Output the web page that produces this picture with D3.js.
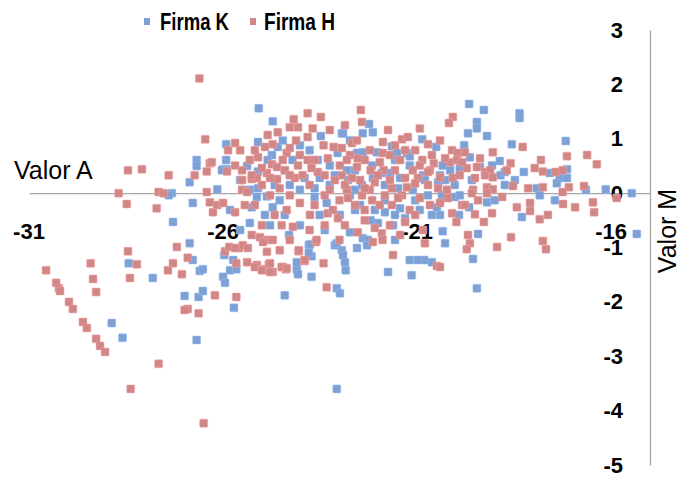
<!DOCTYPE html>
<html>
<head>
<meta charset="utf-8">
<script src="https://cdn.jsdelivr.net/npm/d3@7"></script>
<style>
  html, body { margin: 0; padding: 0; background: #fff; }
  svg { display: block; }
  .tick-label { font-family: "Liberation Sans", Arial, sans-serif; font-weight: bold; font-size: 22px; fill: #000; }
  .axis-title { font-family: "Liberation Sans", Arial, sans-serif; font-size: 25px; fill: #000; }
  .legend-text { font-family: "Liberation Sans", Arial, sans-serif; font-weight: bold; font-size: 24px; fill: #000; }
</style>
</head>
<body>
<svg id="chart" width="681" height="478"></svg>
<script>
// Series: [Valor A, Valor M]
const firmaK = [
  [-28.43,-1.29],[-27.81,-1.56],[-28.87,-2.39],[-28.59,-2.66],[-26.86,-0.92],[-26.78,-1.23],
  [-26.60,-1.43],[-26.52,-1.40],[-26.99,-1.89],[-26.63,-1.91],[-26.52,-1.80],[-26.68,-2.70],
  [-25.97,-1.14],[-25.74,-1.23],[-25.82,-1.42],[-25.66,-1.40],[-26.00,-1.54],[-25.95,-1.65],
  [-25.72,-2.11],[-24.41,-1.88],[-24.10,-1.40],[-24.07,-1.49],[-23.79,-0.96],[-23.72,-1.16],
  [-23.72,-1.54],[-23.07,-3.60],[-23.12,-0.96],[-23.07,-1.75],[-26.68,0.61],[-26.68,0.50],
  [-26.86,0.20],[-27.32,0.00],[-25.08,1.56],[-24.72,1.32],[-22.94,1.10],[-23.48,1.05],
  [-25.92,0.90],[-25.10,0.94],[-25.92,0.61],[-25.90,0.44],[-25.38,0.50],[-26.00,0.44],
  [-24.74,0.70],[-24.59,0.85],[-25.10,0.40],[-26.15,0.07],[-25.10,0.09],[-23.56,0.61],
  [-24.21,0.61],[-23.05,0.74],[-19.66,1.64],[-19.28,1.53],[-19.46,1.31],[-19.46,1.19],
  [-19.20,1.05],[-19.69,1.10],[-22.24,1.27],[-22.14,1.12],[-22.40,1.10],[-22.91,1.10],
  [-20.87,0.99],[-19.79,0.88],[-20.51,0.85],[-21.65,0.86],[-21.52,0.74],[-21.26,0.74],
  [-21.19,0.68],[-22.04,0.75],[-22.55,0.74],[-22.40,0.75],[-20.34,0.51],[-20.15,0.42],
  [-19.64,0.66],[-19.38,0.48],[-19.59,0.24],[-21.70,0.37],[-20.85,0.33],[-21.49,0.09],
  [-22.14,0.28],[-22.81,0.42],[-20.46,0.20],[-22.60,0.06],[-18.36,1.47],[-18.36,1.38],
  [-18.56,0.90],[-17.17,0.96],[-18.87,0.59],[-18.25,0.39],[-18.85,0.33],[-17.14,0.44],
  [-17.33,0.28],[-17.14,0.28],[-17.40,0.18],[-17.58,0.37],[-17.92,0.09],[-16.65,0.06],
  [-16.14,0.07],[-15.47,0.00],[-15.34,-0.75],[-19.46,-1.75],[-19.56,-1.21],[-20.34,-0.70],
  [-20.28,-0.92],[-19.43,-0.75],[-20.62,-1.27],[-20.82,-1.23],[-18.30,-0.44],[-19.20,-0.17],
  [-20.62,-0.40],[-19.92,-0.40],[-19.66,-0.26],[-20.49,-0.26],[-20.03,-0.07],[-20.36,-0.04],
  [-17.45,-0.13],[-25.31,-0.55],[-24.30,-0.77],[-23.76,-0.94],[-23.79,-1.10],[-24.10,-1.27],
  [-23.07,-0.92],[-22.94,-1.05],[-22.91,-1.14],[-22.86,-1.27],[-22.84,-1.42],[-22.99,-1.84],
  [-22.40,-0.83],[-22.27,-0.86],[-22.55,-1.01],[-22.29,-0.96],[-21.75,-1.45],[-21.19,-1.23],
  [-20.98,-1.23],[-21.14,-1.51],[-22.01,-0.55],[-21.62,-0.59],[-25.26,-0.26],[-24.72,-0.26],
  [-23.64,-0.07],[-23.33,-0.18],[-24.87,-0.06],[-26.03,0.42],[-21.91,0.37],
  [-24.28,0.15],[-23.90,0.28],[-23.25,0.15],[-22.73,-0.04],[-22.47,-0.22],[-21.83,-0.13],
  [-21.44,-0.28],[-21.05,-0.13],[-21.57,-0.40],[-22.09,-0.31],[-23.51,-0.40],[-24.54,-0.13],
  [-24.92,-0.40],[-25.56,-0.68],[-24.02,-0.59],[-20.80,0.24],[-20.41,0.33],[-20.03,0.15],
  [-19.90,-0.04],[-19.00,-0.13],[-18.74,0.15],[-17.84,-0.04],[-22.60,0.42],[-23.25,0.51],
  [-21.19,0.51],[-21.57,0.61],[-25.31,0.06],[-25.56,0.24],[-24.41,0.42],[-23.77,0.79],
  [-27.40,-0.04],[-26.78,-0.18],[-27.29,-0.53],[-25.82,-0.31],[-25.13,-0.07],
  [-23.12,0.33],[-22.78,0.24],[-22.42,0.15],[-22.16,0.51],[-21.83,0.15],[-21.44,0.28],
  [-21.11,0.06],[-20.72,-0.04],[-20.28,0.24],[-19.90,0.46],[-19.07,0.51],[-18.74,0.39],
  [-18.48,0.24],[-24.02,0.06],[-23.64,0.09],[-23.51,0.28],[-24.67,0.15],[-24.85,0.61],
  [-24.46,0.97],[-24.02,0.88],[-22.73,0.97],[-22.60,-0.31],[-22.99,-0.40],[-22.20,-0.50],
  [-21.83,-0.35],[-21.31,-0.46],[-20.93,-0.31],[-20.41,-0.40],[-23.38,-0.68],[-22.73,-0.72],
  [-21.57,-0.86],[-24.79,-0.59],[-24.41,-0.40]
];

const firmaH = [
  [-28.45,-1.07],[-28.22,-1.31],[-28.40,-1.56],[-29.41,-1.29],[-29.35,-1.58],[-29.27,-1.82],
  [-30.56,-1.42],[-30.30,-1.65],[-30.23,-1.75],[-30.20,-1.80],[-29.97,-2.00],[-29.87,-2.13],
  [-29.61,-2.37],[-29.51,-2.48],[-29.27,-2.68],[-29.17,-2.81],[-29.04,-2.92],[-27.66,-3.14],
  [-28.38,-3.60],[-26.50,-4.23],[-27.19,-0.99],[-27.29,-1.29],[-27.42,-1.42],[-27.06,-1.49],
  [-26.91,-1.19],[-26.21,-1.88],[-26.91,-2.13],[-26.99,-2.15],[-26.63,-2.21],[-25.66,-1.91],
  [-25.95,-1.07],[-25.84,-0.99],[-25.59,-1.01],[-25.66,-1.29],[-25.13,-1.32],[-24.97,-1.40],
  [-24.82,-1.31],[-24.72,-1.45],[-24.46,-1.36],[-24.38,-1.40],[-24.05,-1.07],[-23.90,-1.25],
  [-23.61,-0.90],[-23.41,-1.29],[-23.33,-1.73],[-26.61,2.11],[-26.46,0.99],[-28.45,0.42],
  [-28.09,0.44],[-27.40,0.33],[-26.73,0.33],[-28.69,0.00],[-27.66,0.02],[-27.53,0.00],
  [-23.82,1.47],[-23.48,1.40],[-24.18,1.36],[-24.28,1.21],[-24.07,1.21],[-24.59,1.12],
  [-25.69,0.92],[-25.87,0.79],[-24.12,0.97],[-23.82,1.03],[-24.92,0.85],[-24.72,0.90],
  [-24.36,0.74],[-24.02,0.70],[-23.82,0.61],[-23.41,0.88],[-23.15,0.85],[-22.94,0.83],
  [-26.34,0.55],[-26.42,0.40],[-25.69,0.51],[-25.90,0.40],[-25.10,0.66],[-24.74,0.53],
  [-24.87,0.37],[-24.61,0.48],[-24.41,0.42],[-25.51,0.24],[-25.26,0.26],[-24.61,0.26],
  [-25.51,0.06],[-26.42,0.02],[-26.29,0.57],[-25.13,0.28],[-25.38,0.02],
  [-22.45,1.53],[-22.42,1.31],[-22.68,0.92],[-21.88,0.94],[-21.39,0.99],[-21.24,1.03],
  [-20.08,1.40],[-20.18,1.29],[-20.72,0.90],[-20.62,0.70],[-20.10,0.79],[-19.95,0.74],
  [-19.77,0.75],[-21.89,0.74],[-21.70,0.70],[-22.73,0.70],[-22.81,0.61],[-22.55,0.48],
  [-21.96,0.57],[-20.87,0.61],[-21.44,0.61],[-22.20,0.42],[-21.86,0.42],[-21.11,0.42],
  [-20.57,0.55],[-20.15,0.57],[-19.97,0.61],[-19.72,0.46],[-19.46,0.48],[-19.25,0.39],
  [-22.94,0.33],[-22.47,0.24],[-21.70,0.24],[-20.98,0.28],[-20.41,0.29],[-20.08,0.28],
  [-22.81,0.06],[-22.22,0.06],[-21.26,0.11],[-20.72,0.15],[-20.23,0.06],[-19.56,0.06],
  [-19.20,0.11],[-19.05,0.75],[-18.28,0.85],[-18.59,0.55],[-17.81,0.61],[-17.14,0.68],
  [-16.62,0.70],[-16.37,0.53],[-18.69,0.42],[-17.97,0.46],[-17.76,0.40],[-17.43,0.39],
  [-17.25,0.42],[-19.12,0.42],[-19.25,0.33],[-19.05,0.29],[-18.53,0.13],[-18.14,0.09],
  [-17.76,0.11],[-17.09,0.11],[-16.70,0.13],[-19.05,0.07],[-17.25,0.02],
  [-19.69,-0.77],[-19.64,-0.92],[-19.72,-1.03],[-18.94,-0.99],[-18.58,-0.81],[-17.76,-0.88],
  [-17.68,-1.03],[-20.49,-1.34],[-20.41,-1.36],[-19.99,-0.53],[-19.28,-0.53],[-19.51,-0.39],
  [-19.07,-0.37],[-20.10,-0.37],[-18.43,-0.26],[-18.09,-0.18],[-18.09,-0.33],[-17.84,-0.48],
  [-17.63,-0.40],[-17.24,-0.20],[-16.93,-0.26],[-16.47,-0.17],[-16.44,-0.35],[-15.86,-0.09],
  [-19.59,0.00],[-19.20,0.00],[-18.81,-0.07],[-20.85,-0.68],[-20.80,-0.92],[-19.84,-0.22],
  [-20.41,-0.18],[-26.26,-0.35],[-26.15,-0.22],[-26.00,-0.18],[-26.34,-0.17],[-25.69,-0.35],
  [-25.26,-0.77],[-25.05,-0.81],[-24.85,-0.86],[-24.97,-0.90],[-24.72,-0.86],[-25.69,-1.01],
  [-25.49,-0.96],[-25.36,-1.01],[-25.00,-0.59],[-24.49,-0.59],[-25.38,-1.27],[-25.18,-1.36],
  [-25.00,-1.42],[-24.79,-1.29],[-24.79,-1.45],[-24.49,-1.36],[-24.36,-1.38],[-24.05,-1.05],
  [-23.90,-1.23],[-23.59,-0.86],[-23.00,-0.86],[-21.62,-1.14],[-21.91,-0.74],[-21.89,-0.86],
  [-22.14,-0.90],[-24.87,-1.08],[-24.20,-0.62],[-23.76,-0.40],[-23.30,-0.37],[-23.04,-0.46],
  [-24.02,-0.18],[-24.28,-0.04],[-24.36,-0.31],
  [-25.00,0.15],[-24.79,-0.04],[-24.54,0.09],[-24.15,0.28],[-23.77,0.15],[-23.56,0.39],
  [-23.38,-0.04],[-23.12,0.24],[-23.00,-0.13],[-22.60,-0.22],[-22.42,-0.04],[-22.16,-0.13],
  [-21.83,-0.04],[-21.65,-0.22],[-21.39,-0.04],[-21.19,-0.31],[-20.93,-0.09],[-21.57,0.42],
  [-21.31,0.28],[-22.35,0.61],[-22.09,0.20],[-23.64,0.61],[-23.30,0.64],[-24.07,0.51],
  [-24.28,0.83],[-25.31,0.61],[-25.56,0.79],[-22.55,0.97],[-21.05,0.79],[-20.67,0.42],
  [-19.90,0.33],[-22.86,-0.59],[-22.35,-0.50],[-21.70,-0.59],[-21.31,-0.53],[-25.18,-0.22],
  [-24.67,-0.40],[-25.44,-0.22],[-28.48,-0.20],[-27.71,-0.28],
  [-23.25,0.06],[-22.86,0.15],[-22.68,0.28],[-22.35,0.09],[-22.01,0.33],[-21.65,0.09],
  [-21.05,0.18],[-20.72,0.39],[-20.46,0.09],[-20.28,0.64],[-19.84,0.57],[-19.51,0.28],
  [-19.38,0.64],[-20.93,0.51],[-21.31,0.79],[-21.57,0.88],[-22.22,0.79],[-22.53,0.64],
  [-22.99,0.51],[-23.38,0.33],[-23.72,0.46],[-23.95,0.33],[-24.28,0.33],[-24.46,0.61],
  [-24.79,0.28],[-25.00,0.46],[-25.26,0.33],[-25.51,0.42],[-25.18,0.79],[-24.85,1.07],
  [-23.69,1.19],[-23.25,1.16],[-22.86,1.25],[-21.75,1.16],[-20.93,1.19],[-20.41,0.97],
  [-23.64,-0.22],[-23.17,-0.31],[-22.78,-0.09],[-22.35,-0.31],[-21.96,-0.22],[-21.49,-0.09],
  [-21.05,-0.40],[-20.67,-0.22],[-20.21,-0.09],[-19.77,-0.22],[-19.43,-0.13],[-23.77,-0.68],
  [-23.38,-0.59],[-22.09,-0.64],[-21.44,-0.77],[-24.28,-0.86],[-24.54,-1.05],[-22.53,-0.72]
];

const xTicks = [-31, -26, -21, -16];
const yTicks = [3, 2, 1, 0, -1, -2, -3, -4, -5];
const seriesNames = ["Firma K", "Firma H"];
const seriesColors = ["#7ea0d2", "#d08787"];

const svg = d3.select("#chart");

const x = d3.scaleLinear().domain([-31, -15]).range([29, 650]);
const y = d3.scaleLinear().domain([-5, 3]).range([465, 30]);

const axisColor = "#a6a6a6";

// Horizontal axis crosses at Valor M = 0
const xAxis = d3.axisBottom(x).tickValues(xTicks).tickSize(0).tickFormat(() => "");
svg.append("g")
  .attr("transform", `translate(0,${y(0)})`)
  .call(xAxis)
  .call(g => g.select(".domain").attr("stroke", axisColor).attr("stroke-width", 1.3));

// Vertical axis sits at the right end of the horizontal axis
const yAxis = d3.axisLeft(y).tickValues(yTicks).tickSize(0).tickFormat(() => "");
svg.append("g")
  .attr("transform", `translate(${x(-15)},0)`)
  .call(yAxis)
  .call(g => g.select(".domain").attr("stroke", axisColor).attr("stroke-width", 1.3));

// Tick labels
svg.append("g").selectAll("text")
  .data(xTicks).join("text")
  .attr("class", "tick-label")
  .attr("x", d => x(d))
  .attr("y", 231)
  .attr("text-anchor", "middle")
  .attr("dominant-baseline", "central")
  .text(d => d);

svg.append("g").selectAll("text")
  .data(yTicks).join("text")
  .attr("class", "tick-label")
  .attr("x", 623)
  .attr("y", d => y(d))
  .attr("text-anchor", "end")
  .attr("dominant-baseline", "central")
  .text(d => d);

// Axis titles
svg.append("text")
  .attr("class", "axis-title")
  .attr("x", 14)
  .attr("y", 179)
  .text("Valor A");

svg.append("text")
  .attr("class", "axis-title")
  .attr("transform", "translate(676,231) rotate(-90)")
  .attr("text-anchor", "middle")
  .text("Valor M");

// Markers
const size = 8;
function drawSeries(data, color) {
  svg.append("g").selectAll("rect")
    .data(data).join("rect")
    .attr("x", d => x(d[0]) - size / 2)
    .attr("y", d => y(d[1]) - size / 2)
    .attr("width", size)
    .attr("height", size)
    .attr("rx", 0.8)
    .attr("fill", color)
    .attr("stroke", d3.color(color).brighter(0.6))
    .attr("stroke-opacity", 0.5)
    .attr("stroke-width", 1);
}
drawSeries(firmaK, seriesColors[0]);
drawSeries(firmaH, seriesColors[1]);

// Legend
const legendItems = [
  { name: seriesNames[0], color: seriesColors[0], mx: 147, tx: 160, w: 69 },
  { name: seriesNames[1], color: seriesColors[1], mx: 253, tx: 264, w: 71 }
];
const legend = svg.append("g");
legend.selectAll("rect")
  .data(legendItems).join("rect")
  .attr("x", d => d.mx - 3)
  .attr("y", 18)
  .attr("width", 6)
  .attr("height", 7)
  .attr("fill", d => d.color);
legend.selectAll("text")
  .data(legendItems).join("text")
  .attr("class", "legend-text")
  .attr("x", d => d.tx)
  .attr("y", 30)
  .attr("textLength", d => d.w)
  .attr("lengthAdjust", "spacingAndGlyphs")
  .text(d => d.name);
</script>
</body>
</html>
